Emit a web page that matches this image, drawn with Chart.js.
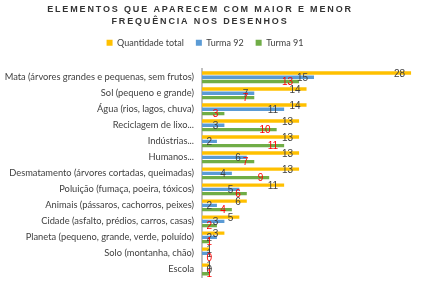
<!DOCTYPE html>
<html><head><meta charset="utf-8">
<script src="https://cdn.jsdelivr.net/npm/chart.js@4/dist/chart.umd.min.js"></script>
<style>html,body{margin:0;padding:0;background:#fff}#wrap{width:429px;height:291px;position:relative}</style>
</head><body><div id="wrap"><canvas id="c"></canvas></div>
<script>
const categories = [
  'Mata (árvores grandes e pequenas, sem frutos)',
  'Sol (pequeno e grande)',
  'Água (rios, lagos, chuva)',
  'Reciclagem de lixo...',
  'Indústrias...',
  'Humanos...',
  'Desmatamento (árvores cortadas, queimadas)',
  'Poluição (fumaça, poeira, tóxicos)',
  'Animais (pássaros, cachorros, peixes)',
  'Cidade (asfalto, prédios, carros, casas)',
  'Planeta (pequeno, grande, verde, poluído)',
  'Solo (montanha, chão)',
  'Escola'
];
const quantidadeTotal = [28, 14, 14, 13, 13, 13, 13, 11, 6, 5, 3, 1, 1];
const turma92 = [15, 7, 11, 3, 2, 6, 4, 5, 2, 3, 2, 1, 0];
const turma91 = [13, 7, 3, 10, 11, 7, 9, 6, 4, 2, 1, 0, 1];
const seriesNames = ['Quantidade total', 'Turma 92', 'Turma 91'];
const titleLines = ['ELEMENTOS QUE APARECEM COM MAIOR E MENOR', 'FREQUÊNCIA NOS DESENHOS'];

const seriesColors = ['#FFC000', '#5B9BD5', '#70AD47'];
const labelColors = ['#404040', '#404040', '#FF0000'];

const valueLabels = {
  id: 'valueLabels',
  afterDatasetsDraw(chart) {
    const ctx = chart.ctx;
    const base = chart.scales.x.getPixelForValue(0);
    ctx.save();
    ctx.font = '10px "Liberation Sans"';
    ctx.textAlign = 'right';
    ctx.textBaseline = 'middle';
    chart.data.datasets.forEach((ds, i) => {
      const meta = chart.getDatasetMeta(i);
      meta.data.forEach((bar, j) => {
        const v = ds.data[j];
        const right = Math.max(bar.x - 6, base + 10);
        ctx.fillStyle = labelColors[i];
        ctx.fillText(String(v), right, bar.y + 1);
      });
    });
    ctx.restore();
  }
};

const shiftBoxes = {
  id: 'shiftBoxes',
  beforeUpdate(chart) {
    const lg = chart.legend;
    if (lg && !lg._fitWrapped) {
      const origFit = lg.fit.bind(lg);
      lg.fit = function () {
        origFit();
        this.height += 11;
        this.bottom = this.top + this.height;
      };
      lg._fitWrapped = true;
    }
  },
  beforeDraw(chart) {
    const tb = chart.titleBlock;
    if (tb && !tb._wrapped) {
      const orig = tb.draw.bind(tb);
      tb.draw = function () {
        const c = chart.ctx;
        c.save();
        c.letterSpacing = '1.85px';
        c.translate(-13, 0);
        orig.apply(null, arguments);
        c.restore();
      };
      tb._wrapped = true;
    }
    const lg = chart.legend;
    if (lg && !lg._wrapped) {
      const origL = lg.draw.bind(lg);
      lg.draw = function () {
        const c = chart.ctx;
        c.save();
        c.translate(-8, -1);
        origL.apply(null, arguments);
        c.restore();
      };
      lg._wrapped = true;
    }
  }
};

new Chart(document.getElementById('c'), {
  type: 'bar',
  data: {
    labels: categories,
    datasets: [
      { label: seriesNames[0], data: quantidadeTotal, backgroundColor: seriesColors[0] },
      { label: seriesNames[1], data: turma92, backgroundColor: seriesColors[1] },
      { label: seriesNames[2], data: turma91, backgroundColor: seriesColors[2] }
    ]
  },
  options: {
    indexAxis: 'y',
    responsive: true,
    maintainAspectRatio: false,
    animation: false,
    layout: { padding: { left: 0, right: 3, top: 0, bottom: 10 } },
    datasets: { bar: { categoryPercentage: 0.8, barPercentage: 0.8 } },
    plugins: {
      title: {
        display: true,
        text: titleLines,
        color: '#333333',
        font: { family: '"Liberation Sans"', size: 9, weight: 'bold', lineHeight: 1.35 },
        padding: { top: 3, bottom: 0 }
      },
      legend: {
        display: true,
        labels: {
          color: '#404040',
          font: { family: 'Lato', size: 9 },
          boxWidth: 6, boxHeight: 6,
          padding: 12
        }
      },
      tooltip: { enabled: false }
    },
    scales: {
      x: { display: false, min: 0, max: 30 },
      y: {
        grid: { display: false, drawTicks: false },
        border: { display: true, color: '#C0C0C0', width: 2 },
        ticks: { color: '#404040', font: { family: 'Lato', size: 9.3 }, padding: 8, autoSkip: false },
        afterFit(scale) { scale.width = 202; }
      }
    }
  },
  plugins: [valueLabels, shiftBoxes]
});
</script>
</body></html>
